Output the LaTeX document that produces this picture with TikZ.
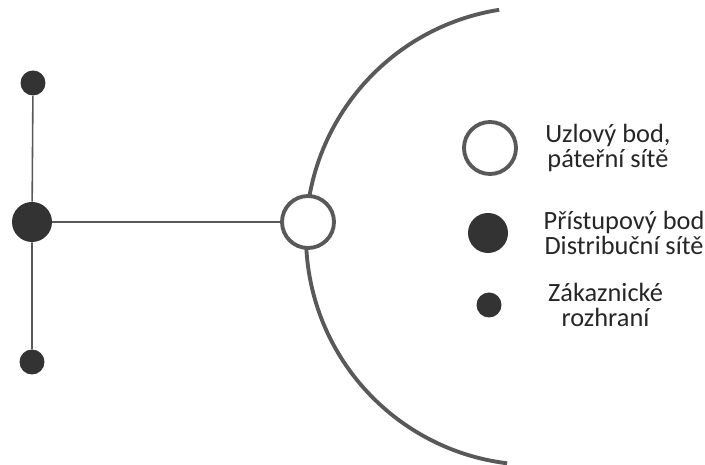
\documentclass[tikz,border=0pt]{standalone}
\usepackage{fontspec}
\setmainfont{Carlito}
\usetikzlibrary{positioning}
\definecolor{ink}{HTML}{333333}
\definecolor{wire}{HTML}{595959}

\begin{document}
\begin{tikzpicture}[x=0.02cm,y=0.02cm,
  core/.style={circle,draw=wire,line width=2.2pt,fill=white,inner sep=0pt,minimum size=1.04cm},
  access/.style={circle,fill=ink,inner sep=0pt,minimum size=0.8cm},
  client/.style={circle,fill=ink,inner sep=0pt,minimum size=0.5cm},
  legtext/.style={font=\fontsize{15}{14.6}\selectfont,align=center,inner sep=0pt,text=black!85}]
  \useasboundingbox (0,0) rectangle (705,465);
  % backbone ring
  \draw[wire,line width=2.2pt] (535,229) ++(99:229) arc[start angle=99,end angle=263,radius=229];
  % network
  \node[core] (uzel) at (308,243) {};
  \node[access] (pristup) at (32,243) {};
  \node[client] (zak1) at (33,382) {};
  \node[client] (zak2) at (32,103) {};
  \draw[wire,line width=0.9pt] (zak1) -- (pristup) -- (zak2);
  \draw[wire,line width=1.1pt] (pristup) -- (uzel);
  % legend
  \node[core] (legUzel) at (490,317) {};
  \node[access] (legPristup) at (488,232) {};
  \node[client] (legZak) at (489,160) {};
  \node[legtext,right=0.54cm of legUzel] (txtUzel) {Uzlový bod,\\páteřní sítě};
  \node[legtext,right=0.7cm of legPristup] (txtPristup) {Přístupový bod\\Distribuční sítě};
  \node[legtext,right=0.92cm of legZak] (txtZak) {Zákaznické\\rozhraní};
\end{tikzpicture}
\end{document}
